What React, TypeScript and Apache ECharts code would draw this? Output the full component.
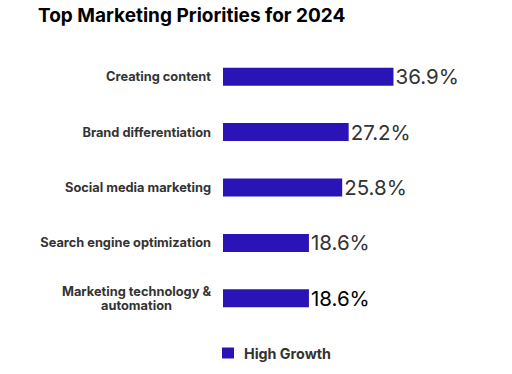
import React, { useEffect, useRef } from "react";
import * as echarts from "echarts";

const categories = [
  "Creating content",
  "Brand differentiation",
  "Social media marketing",
  "Search engine optimization",
  "Marketing technology &\nautomation",
];
const values = [36.9, 27.2, 25.8, 18.6, 18.6];
const seriesName = "High Growth";
const titleText = "Top Marketing Priorities for 2024";

export default function App() {
  const ref = useRef<HTMLDivElement>(null);
  useEffect(() => {
    document.body.style.margin = "0";
    const chart = echarts.init(ref.current!, null, { renderer: "svg" });
    chart.setOption({
      animation: false,
      title: {
        text: titleText,
        left: 38,
        top: 6,
        padding: 0,
        textStyle: { fontFamily: "Inter", fontWeight: "bold", fontSize: 19, color: "#000" },
      },
      legend: {
        data: [seriesName],
        left: 222,
        top: 346,
        padding: 0,
        icon: "rect",
        itemWidth: 12,
        itemHeight: 11,
        itemGap: 10,
        textStyle: {
          fontFamily: "Inter",
          fontWeight: "bold",
          fontSize: 14.3,
          color: "#333",
          padding: [0, 0, 0, 5],
        },
      },
      grid: { left: 223, right: 58, top: 49, bottom: 48, containLabel: false },
      xAxis: { type: "value", min: 0, max: 50, show: false },
      yAxis: {
        type: "category",
        inverse: true,
        data: categories,
        axisLine: { show: false },
        axisTick: { show: false },
        axisLabel: {
          margin: 12,
          fontFamily: "Inter",
          fontWeight: "bold",
          fontSize: 12.8,
          color: "#333",
          formatter: (v: string) =>
            v.indexOf("\n") >= 0
              ? v.split("\n").map((s) => `{c|${s}}`).join("\n")
              : v,
          rich: {
            c: { align: "center", fontFamily: "Inter", fontWeight: "bold", fontSize: 12.8, color: "#333", lineHeight: 14 },
          },
        },
      },
      series: [
        {
          name: seriesName,
          type: "bar",
          data: values.map((v, i) => ({
            value: v,
            label: { color: i === values.length - 1 ? "#000" : "#333" },
          })),
          barWidth: 18,
          itemStyle: { color: "#2a14b8" },
          label: {
            show: true,
            position: "right",
            distance: 2,
            formatter: (p: any) => `${p.value}%`,
            fontFamily: "Inter",
            fontSize: 20.5,
            color: "#333",
          },
        },
      ],
    });
    return () => chart.dispose();
  }, []);
  return <div ref={ref} style={{ width: 512, height: 374 }} />;
}
